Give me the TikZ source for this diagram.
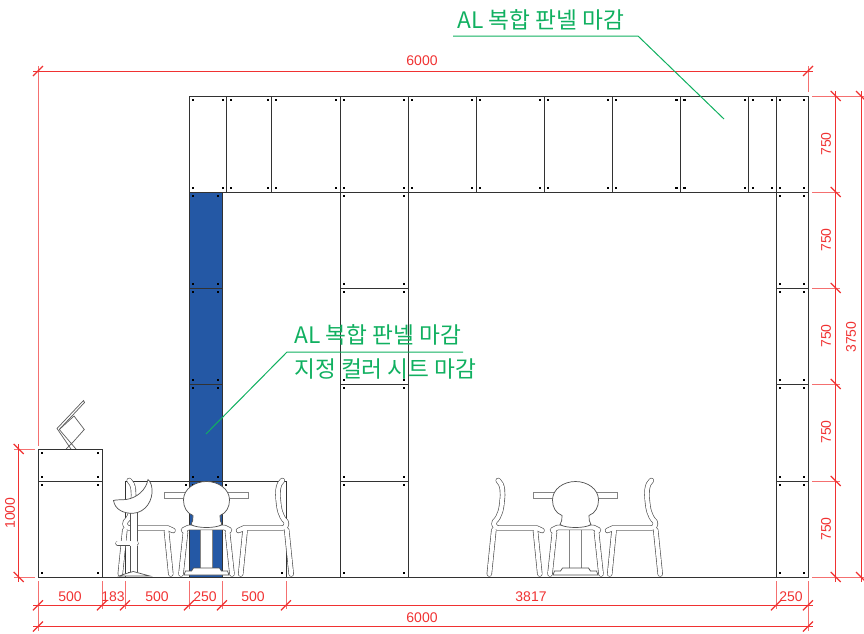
\documentclass[tikz,border=0pt]{standalone}
\usepackage{fontspec}
\setmainfont{Liberation Sans}
\newfontfamily\krfont{Noto Sans CJK KR}[Scale=1]
\definecolor{dimred}{RGB}{240,50,50}
\definecolor{leadgreen}{RGB}{16,176,96}
\definecolor{panelblue}{RGB}{36,88,165}
\definecolor{linegray}{RGB}{50,50,50}
\tikzset{
  panel/.style={draw=linegray,line width=0.95pt},
  dimline/.style={draw=dimred,line width=1pt},
  extline/.style={draw=dimred!70,line width=1pt},
  ticksl/.style={draw=dimred,line width=1.3pt},
  dimtext/.style={text=dimred,font=\fontsize{14}{15}\selectfont,inner sep=0pt},
  leadtext/.style={text=leadgreen,font=\krfont\fontsize{22.7}{24}\selectfont,inner sep=0pt,anchor=west},
  leader/.style={draw=leadgreen,line width=1pt},
  obj/.style={draw=linegray!85,line width=0.7pt,fill=white},
  tubeo/.style={draw=linegray!85,line width=5.4pt,line cap=round,line join=round},
  tubei/.style={draw=white,line width=4.1pt,line cap=round,line join=round},
  pics/hd/.style={code={\draw[ticksl] (-5,5) -- (5,-5);}},
  pics/vd/.style={code={\draw[ticksl] (-5,-5) -- (5,5);}},
  pics/dot/.style={code={\fill[black] (-1.2,-1.2) rectangle (1.2,1.2);}},
  pics/sidechair/.style={code={
    \foreach \sty in {tubeo,tubei}{
      \draw[\sty] (-12.2,574) -- (-7.7,530);
      \draw[\sty] (34,531) -- (38.3,574);
      \draw[\sty] (-3.3,480.5) .. controls (1.5,484) and (1.5,494) .. (0.7,500) .. controls (0,508) and (-1,516) .. (-7,521.7) .. controls (-8.5,525) and (-6,528) .. (-3,528) -- (35,528) -- (40.5,530.5);
    }
  }},
  pics/group/.style={code={
    \draw[obj,draw=linegray!60] (-42,492.3) rectangle (42,498.3);
    \draw[obj,draw=linegray!60] (-6,528) rectangle (6,568);
    \draw[obj] (-22.5,575) -- (-21,571) -- (-15,571) -- (-13,568) -- (13,568) -- (15,571) -- (21,571) -- (22.5,575) -- cycle;
    \pic at (-74,0) {sidechair};
    \pic[xscale=-1] at (72.5,0) {sidechair};
    \foreach \sty in {tubeo,tubei}{
      \draw[\sty] (-25.5,574) -- (-21,532) -- (-23,530) -- (-18,527.5) -- (18,527.5) -- (23,530) -- (21,532) -- (25.5,574);
    }
    \draw[obj] (-13.5,515.5) .. controls (-20,513) and (-23,507) .. (-23,500)
      .. controls (-23,489) and (-12,481.5) .. (0,481.5)
      .. controls (12,481.5) and (23,489) .. (23,500)
      .. controls (23,507) and (20,513) .. (13.5,515.5)
      .. controls (13,519) and (14,522) .. (15.5,524.5)
      .. controls (10,528.5) and (-10,528.5) .. (-15.5,524.5)
      .. controls (-14,522) and (-13,519) .. (-13.5,515.5) -- cycle;
  }},
}
\begin{document}
\begin{tikzpicture}[x=1pt,y=-1pt]
\useasboundingbox (0,0) rectangle (864,633);
% blue column
\fill[panelblue] (189,192) rectangle (222,577);
% panels
\draw[panel] (189,96) rectangle (808,192);
\foreach \x in {226.7,271.8,340,408,476,544,612,680.4,748.8,776}{\draw[panel] (\x,96) -- (\x,192);}
\foreach \a/\b in {189/226.7,226.7/271.8,271.8/340,340/408,408/476,476/544,544/612,612/680.4,680.4/748.8,748.8/776,776/808}{
  \pgfmathsetmacro{\xl}{\a+4}\pgfmathsetmacro{\xr}{\b-4}
  \pic at (\xl,100) {dot}; \pic at (\xr,100) {dot}; \pic at (\xl,188) {dot}; \pic at (\xr,188) {dot};
}
\draw[panel] (189,192) rectangle (222,577);
\draw[panel] (340,192) rectangle (408,577);
\draw[panel] (776,192) rectangle (808,577);
\foreach \y in {288,384,481}{
  \draw[panel] (189,\y) -- (222,\y);
  \draw[panel] (340,\y) -- (408,\y);
  \draw[panel] (776,\y) -- (808,\y);
}
\foreach \t/\b in {192/288,288/384,384/481,481/577}{
  \pgfmathsetmacro{\yt}{\t+4}\pgfmathsetmacro{\yb}{\b-4}
  \foreach \x in {193,218,344,404,780,804}{
    \pic at (\x,\yt) {dot}; \pic at (\x,\yb) {dot};
  }
}
% left box
\draw[panel] (38,449) rectangle (102,577);
\draw[panel] (38,481) -- (102,481);
\foreach \x in {42,98}{\foreach \y in {453,477,485,573}{\pic at (\x,\y) {dot};}}
% rear panel
\draw[panel] (125,577) -- (125,481) -- (286,481) -- (286,577);
\pic at (186,485) {dot}; \pic at (226,485) {dot}; \pic at (282,573) {dot}; \pic at (129,573) {dot};
% ground
\draw[panel] (38,577) -- (808,577);
% object on box
\draw[draw=linegray!80,line width=0.7pt] (66,449) -- (74,441) -- (84.3,429.5) -- (74,416) -- (59.3,429.5) -- (76,449);
\draw[draw=linegray!80,line width=0.7pt] (71,449) -- (57,428.5) -- (83.5,400.5) -- (84.5,402.5) -- (59.3,429.5);
% furniture
\pic at (206.5,0) {group};
\pic at (575.5,0) {group};
% stool
\foreach \sty in {tubeo,tubei}{\draw[\sty] (118,543.3) -- (136,543.3);}
\fill[white] (130,512) rectangle (137,573);
\draw[obj,fill=none] (130,512) -- (130,541) (130,545.7) -- (130,572);
\draw[obj,fill=none] (137,512) -- (137,541) (137,545.7) -- (137,572);
\draw[obj] (119.3,576) .. controls (124,574) and (128,573) .. (133.3,571.5) .. controls (139,573) and (144,574.5) .. (150,576) -- cycle;
\draw[obj] (113.5,500.5) .. controls (115,510) and (124,513.5) .. (133,513.3)
  .. controls (146,512.5) and (153,500) .. (152,489) .. controls (151.8,485) and (150,481) .. (148,479.5)
  .. controls (146,490) and (137,498) .. (126,499.5) .. controls (122,500) and (116,499.5) .. (113.5,500.5) -- cycle;
% dimensions: top
\draw[extline] (38,66) -- (38,446);
\draw[extline] (808,66) -- (808,92);
\draw[dimline] (33,71) -- (813,71);
\pic at (38,71) {hd}; \pic at (808,71) {hd};
\node[dimtext] (topdim) at (422,61) {6000};
% right
\foreach \y in {96,192,288,384,481,577}{
  \draw[extline] (812,\y) -- (840,\y);
  \pic at (835.7,\y) {vd};
}
\draw[extline] (840,96) -- (864,96);
\draw[extline] (840,577) -- (864,577);
\draw[dimline] (835.7,91) -- (835.7,582);
\draw[dimline] (861,91) -- (861,582);
\pic at (861,96) {vd}; \pic at (861,577) {vd};
\foreach \y/\n in {144/a,240/b,336/c,432/d,529/e}{
  \node[dimtext,rotate=90] (r\n) at (826,\y) {750};
}
\node[dimtext,rotate=90] (rall) at (851,337) {3750};
% left
\draw[extline] (14,449) -- (35,449);
\draw[extline] (14,577) -- (35,577);
\draw[dimline] (18.7,444) -- (18.7,582);
\pic at (18.7,449) {vd}; \pic at (18.7,577) {vd};
\node[dimtext,rotate=90] (lall) at (10,513) {1000};
% bottom
\foreach \x in {38,102,125,189,222,286,776,808}{
  \draw[extline] (\x,581) -- (\x,609);
  \pic at (\x,605.3) {hd};
}
\draw[extline] (38,609) -- (38,631);
\draw[extline] (808,609) -- (808,631);
\draw[dimline] (33,605.3) -- (813,605.3);
\draw[dimline] (33,626.5) -- (813,626.5);
\pic at (38,626.5) {hd}; \pic at (808,626.5) {hd};
\foreach \x/\t/\n in {70/500/a,113/183/b,157/500/c,205/250/d,253/500/e,531/3817/f,791/250/g}{
  \node[dimtext] (b\n) at (\x,597) {\t};
}
\node[dimtext] (botall) at (422,618) {6000};
% leaders
\coordinate (la) at (453,36); \coordinate (lb) at (638,36); \coordinate (lc) at (724,119);
\draw[leader] (la) -- (lb) -- (lc);
\coordinate (ma) at (463,352); \coordinate (mb) at (287,352); \coordinate (mc) at (206,434);
\draw[leader] (ma) -- (mb) -- (mc);
\node[leadtext] (t1) at (457,20) {AL 복합 판넬 마감};
\node[leadtext] (t2) at (294,335) {AL 복합 판넬 마감};
\node[leadtext] (t3) at (294,369) {지정 컬러 시트 마감};
\end{tikzpicture}
\end{document}
